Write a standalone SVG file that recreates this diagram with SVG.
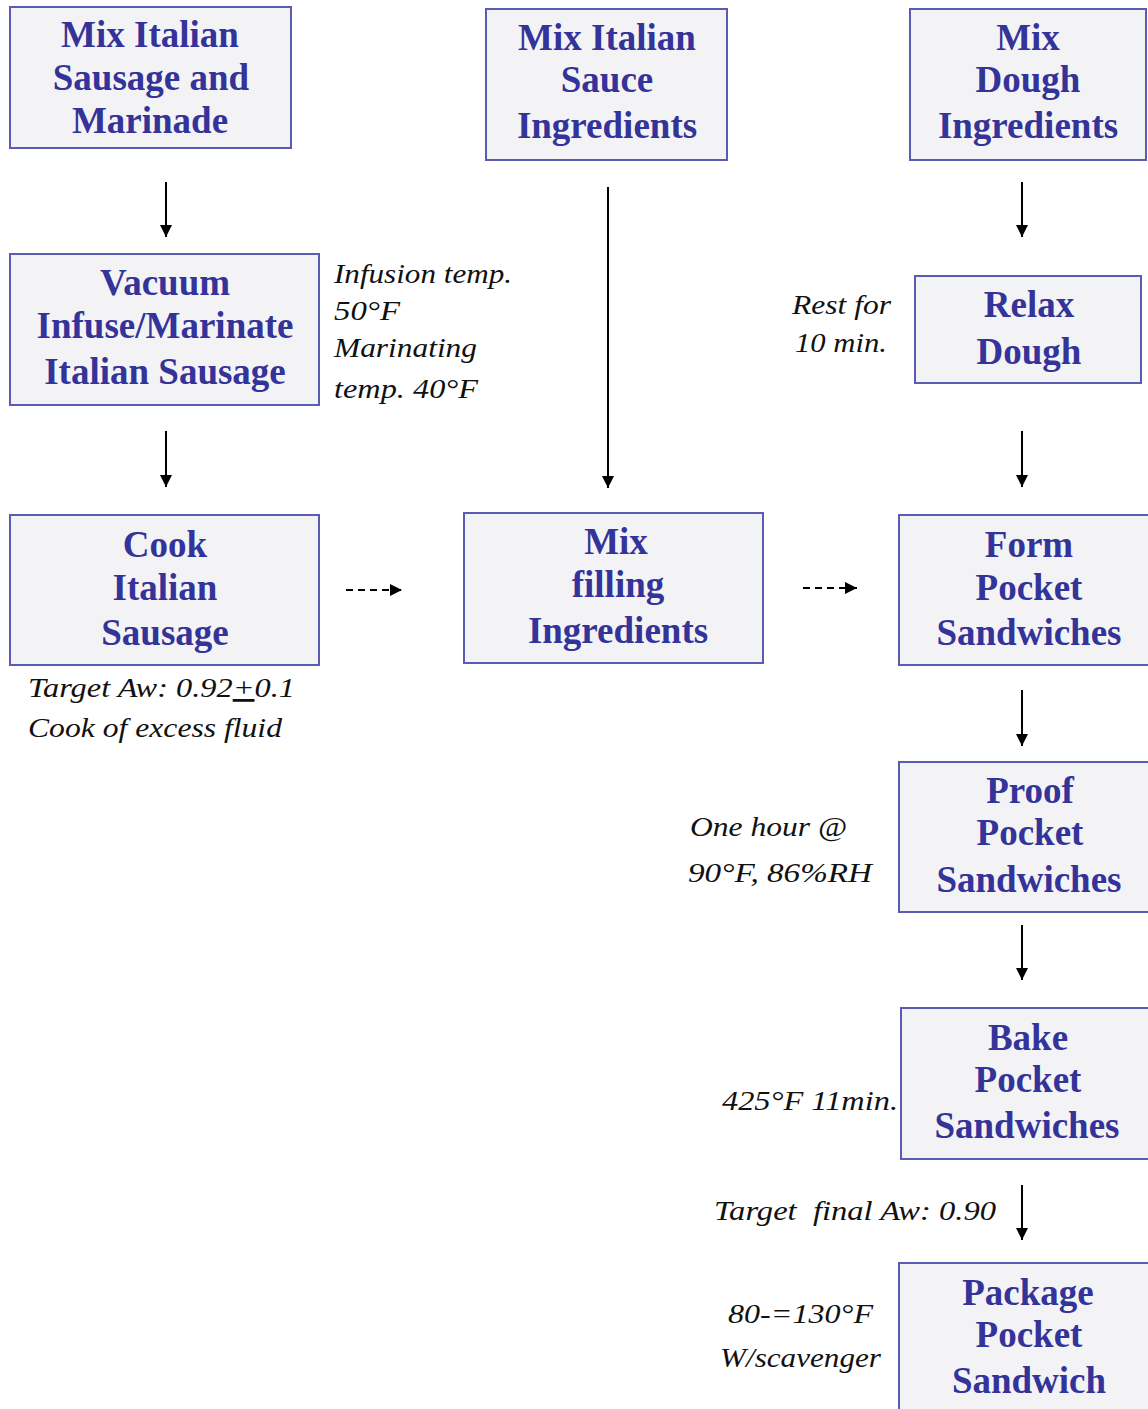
<svg xmlns="http://www.w3.org/2000/svg" width="1148" height="1409" viewBox="0 0 1148 1409">
<style>
.box{fill:#f3f3f5;stroke:#5b5bb5;stroke-width:2}
.t{font-family:"Liberation Serif","Times New Roman",serif;font-weight:bold;font-size:37px;fill:#333399;text-anchor:middle}
.n{font-family:"Liberation Serif","Times New Roman",serif;font-style:italic;font-size:28px;fill:#111}
.c{stroke:#000;stroke-width:2;fill:none}
.d{stroke:#000;stroke-width:2;fill:none;stroke-dasharray:7,5}
</style>
<defs>
<marker id="ah2" viewBox="0 0 10 10" refX="10" refY="5" markerWidth="12" markerHeight="12" markerUnits="userSpaceOnUse" orient="auto">
<path d="M0,0 L10,5 L0,10 z" fill="#000"/>
</marker>
</defs>
<rect width="1148" height="1409" fill="#fff"/>
<g id="connectors">
<line class="c" x1="166" y1="182" x2="166" y2="237" marker-end="url(#ah2)"/>
<line class="c" x1="166" y1="431" x2="166" y2="487" marker-end="url(#ah2)"/>
<line class="c" x1="608" y1="187" x2="608" y2="488" marker-end="url(#ah2)"/>
<line class="c" x1="1022" y1="182" x2="1022" y2="237" marker-end="url(#ah2)"/>
<line class="c" x1="1022" y1="431" x2="1022" y2="487" marker-end="url(#ah2)"/>
<line class="c" x1="1022" y1="690" x2="1022" y2="746" marker-end="url(#ah2)"/>
<line class="c" x1="1022" y1="925" x2="1022" y2="980" marker-end="url(#ah2)"/>
<line class="c" x1="1022" y1="1185" x2="1022" y2="1240" marker-end="url(#ah2)"/>
<line class="d" x1="346" y1="590" x2="402" y2="590" marker-end="url(#ah2)"/>
<line class="d" x1="803" y1="588" x2="857" y2="588" marker-end="url(#ah2)"/>
</g>
<g id="n1"><rect class="box" x="10" y="7" width="281" height="141"/>
<text class="t" x="150" y="47">Mix Italian</text><text class="t" x="151" y="90">Sausage and</text><text class="t" x="150" y="133">Marinade</text></g>
<g id="n2"><rect class="box" x="486" y="9" width="241" height="151"/>
<text class="t" x="607" y="50">Mix Italian</text><text class="t" x="607" y="92">Sauce</text><text class="t" x="607" y="138">Ingredients</text></g>
<g id="n3"><rect class="box" x="910" y="9" width="236" height="151"/>
<text class="t" x="1028" y="50">Mix</text><text class="t" x="1028" y="92">Dough</text><text class="t" x="1028" y="138">Ingredients</text></g>
<g id="n4"><rect class="box" x="10" y="254" width="309" height="151"/>
<text class="t" x="165" y="295">Vacuum</text><text class="t" x="165" y="338">Infuse/Marinate</text><text class="t" x="165" y="384">Italian Sausage</text></g>
<g id="n5"><rect class="box" x="915" y="276" width="226" height="107"/>
<text class="t" x="1029" y="317">Relax</text><text class="t" x="1029" y="364">Dough</text></g>
<g id="n6"><rect class="box" x="10" y="515" width="309" height="150"/>
<text class="t" x="165" y="557">Cook</text><text class="t" x="165" y="600">Italian</text><text class="t" x="165" y="645">Sausage</text></g>
<g id="n7"><rect class="box" x="464" y="513" width="299" height="150"/>
<text class="t" x="616" y="554">Mix</text><text class="t" x="618" y="597">filling</text><text class="t" x="618" y="643">Ingredients</text></g>
<g id="n8"><rect class="box" x="899" y="515" width="252" height="150"/>
<text class="t" x="1029" y="557">Form</text><text class="t" x="1029" y="600">Pocket</text><text class="t" x="1029" y="645">Sandwiches</text></g>
<g id="n9"><rect class="box" x="899" y="762" width="252" height="150"/>
<text class="t" x="1030" y="803">Proof</text><text class="t" x="1030" y="845">Pocket</text><text class="t" x="1029" y="892">Sandwiches</text></g>
<g id="n10"><rect class="box" x="901" y="1008" width="250" height="151"/>
<text class="t" x="1028" y="1050">Bake</text><text class="t" x="1028" y="1092">Pocket</text><text class="t" x="1027" y="1138">Sandwiches</text></g>
<g id="n11"><rect class="box" x="899" y="1263" width="252" height="150"/>
<text class="t" x="1028" y="1305">Package</text><text class="t" x="1029" y="1347">Pocket</text><text class="t" x="1029" y="1393">Sandwich</text></g>
<g id="notes">
<text class="n" x="334" y="283" textLength="178" lengthAdjust="spacingAndGlyphs">Infusion temp.</text>
<text class="n" x="334" y="320" textLength="66" lengthAdjust="spacingAndGlyphs">50°F</text>
<text class="n" x="334" y="357" textLength="143" lengthAdjust="spacingAndGlyphs">Marinating</text>
<text class="n" x="334" y="398" textLength="144" lengthAdjust="spacingAndGlyphs">temp. 40°F</text>
<text class="n" x="792" y="314" textLength="99" lengthAdjust="spacingAndGlyphs">Rest for</text>
<text class="n" x="795" y="352" textLength="92" lengthAdjust="spacingAndGlyphs">10 min.</text>
<text class="n" x="28" y="697" textLength="267" lengthAdjust="spacingAndGlyphs">Target Aw: 0.92<tspan text-decoration="underline">+</tspan>0.1</text>
<text class="n" x="28" y="737" textLength="254" lengthAdjust="spacingAndGlyphs">Cook of excess fluid</text>
<text class="n" x="690" y="836" textLength="157" lengthAdjust="spacingAndGlyphs">One hour @</text>
<text class="n" x="688" y="882" textLength="184" lengthAdjust="spacingAndGlyphs">90°F, 86%RH</text>
<text class="n" x="722" y="1110" textLength="176" lengthAdjust="spacingAndGlyphs">425°F 11min.</text>
<text class="n" x="714" y="1220" textLength="282" lengthAdjust="spacingAndGlyphs">Target&#160; final Aw: 0.90</text>
<text class="n" x="728" y="1323" textLength="145" lengthAdjust="spacingAndGlyphs">80-=130°F</text>
<text class="n" x="720" y="1367" textLength="161" lengthAdjust="spacingAndGlyphs">W/scavenger</text>
</g>
</svg>
